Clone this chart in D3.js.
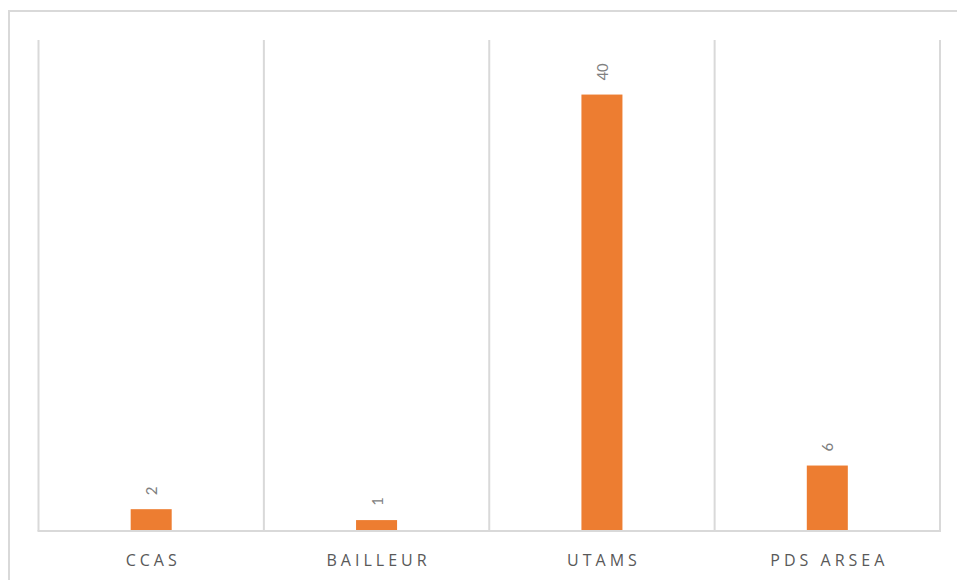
<!DOCTYPE html>
<html><head><meta charset="utf-8">
<script src="https://cdn.jsdelivr.net/npm/d3@7/dist/d3.min.js"></script>
<style>body{margin:0;background:#fff;}svg{display:block;}</style>
</head><body>
<script>
const categories = ["CCAS", "BAILLEUR", "UTAMS", "PDS ARSEA"];
const values = [2, 1, 40, 6];
const yMax = 45;

(function () {
const W = 957, H = 580;
const svg = d3.select("body").append("svg").attr("width", W).attr("height", H);
svg.append("rect").attr("x", 9).attr("y", 11).attr("width", 960).attr("height", 580)
  .attr("fill", "#fff").attr("stroke", "#d9d9d9").attr("stroke-width", 2);

const mLeft = 38.5, mRight = 940, mTop = 40, mBottom = 531;
const x = d3.scaleBand().domain(categories).range([mLeft, mRight]).paddingInner(0).paddingOuter(0);
const y = d3.scaleLinear().domain([0, yMax]).range([mBottom, mTop]);

const bounds = categories.map(c => x(c)).concat([x(categories[categories.length-1]) + x.bandwidth()]);
svg.append("g").selectAll("line").data(bounds).join("line")
  .attr("x1", d => d).attr("x2", d => d).attr("y1", mTop).attr("y2", mBottom)
  .attr("stroke", "#d9d9d9").attr("stroke-width", 2);

const bw = x.bandwidth() * 0.182;
svg.append("g").selectAll("rect").data(values).join("rect")
  .attr("x", (d, i) => x(categories[i]) + x.bandwidth()/2 - bw/2)
  .attr("width", bw)
  .attr("y", d => y(d))
  .attr("height", d => y(0) - y(d))
  .attr("fill", "#ED7D31");

svg.append("line").attr("x1", mLeft - 1).attr("x2", mRight + 1).attr("y1", mBottom).attr("y2", mBottom)
  .attr("stroke", "#d9d9d9").attr("stroke-width", 2);

svg.append("g").selectAll("text").data(values).join("text")
  .attr("transform", (d, i) => `translate(${x(categories[i]) + x.bandwidth()/2 + 6},${y(d) - 14}) rotate(-90)`)
  .attr("text-anchor", "start")
  .attr("font-family", "Carlito, 'Liberation Sans', sans-serif")
  .attr("font-size", 17)
  .attr("fill", "#808080")
  .text(d => d);

svg.append("g").selectAll("text").data(categories).join("text")
  .attr("x", d => x(d) + x.bandwidth()/2 + 2)
  .attr("y", 566)
  .attr("text-anchor", "middle")
  .attr("font-family", "'Open Sans', 'Liberation Sans', sans-serif")
  .attr("font-size", 16)
  .attr("letter-spacing", "4px")
  .attr("fill", "#595959")
  .text(d => d);
})();
</script>
</body></html>
